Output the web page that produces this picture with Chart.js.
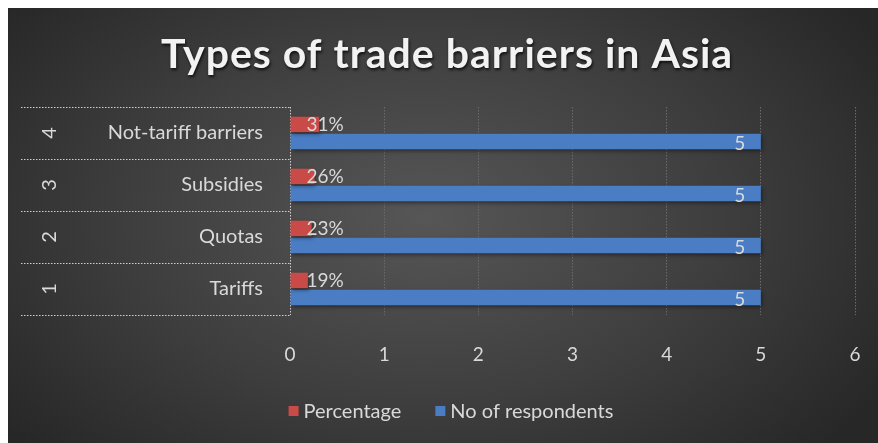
<!DOCTYPE html>
<html>
<head>
<meta charset="utf-8">
<script src="https://cdn.jsdelivr.net/npm/chart.js@4.4.1/dist/chart.umd.min.js"></script>
<style>
  html, body { margin: 0; padding: 0; background: #fff; }
  #wrap {
    position: absolute; left: 8px; top: 8px; width: 870px; height: 435px;
    background: radial-gradient(ellipse 62% 78% at 48% 48%, #565656 0%, #3e3e3e 55%, #272727 100%);
  }
</style>
</head>
<body>
<div id="wrap"><canvas id="chart" width="870" height="435"></canvas></div>
<script>
// ---- Data (bottom to top, as in the sheet) ----
const categories = ["Tariffs", "Quotas", "Subsidies", "Not-tariff barriers"];
const groupNumbers = ["1", "2", "3", "4"];
const percentage = [0.19, 0.23, 0.26, 0.31];
const respondents = [5, 5, 5, 5];
const xTicks = [0, 1, 2, 3, 4, 5, 6];
const seriesNames = ["Percentage", "No of respondents"];
const seriesColors = ["#c94a46", "#4a7dc4"];

const FONT = "Lato, 'Open Sans', sans-serif";
const TXT = "#d9d9d9";

// ---- Title, category boxes, labels, legend ----
const decor = {
  id: "decor",
  beforeDatasetsDraw(chart) {
    const ctx = chart.ctx;
    ctx.save();
    ctx.shadowColor = "rgba(0,0,0,0.45)";
    ctx.shadowBlur = 4;
    ctx.shadowOffsetX = 1;
    ctx.shadowOffsetY = 2;
  },
  afterDatasetsDraw(chart) {
    const ctx = chart.ctx;
    ctx.restore();
    const area = chart.chartArea;
    const y = chart.scales.y;

    // category boxes (multi-level axis look)
    const half = Math.abs(y.getPixelForValue(1) - y.getPixelForValue(0)) / 2;
    ctx.save();
    ctx.strokeStyle = "#d0d0d0";
    ctx.lineWidth = 1;
    ctx.setLineDash([1.5, 1.5]);
    const edges = new Set();
    categories.forEach((c, i) => {
      const p = y.getPixelForValue(i);
      edges.add(Math.round(p - half) + 0.5);
      edges.add(Math.round(p + half) + 0.5);
    });
    edges.forEach(e => {
      ctx.beginPath();
      ctx.moveTo(13, e);
      ctx.lineTo(area.left, e);
      ctx.stroke();
    });
    ctx.restore();

    // category names + rotated group numbers
    ctx.save();
    ctx.fillStyle = TXT;
    ctx.font = "20px " + FONT;
    ctx.textBaseline = "middle";
    categories.forEach((c, i) => {
      const p = y.getPixelForValue(i);
      ctx.textAlign = "right";
      ctx.fillText(c, 255, p);
      ctx.save();
      ctx.translate(42, p);
      ctx.rotate(-Math.PI / 2);
      ctx.textAlign = "center";
      ctx.fillText(groupNumbers[i], 0, 0);
      ctx.restore();
    });
    ctx.restore();

    // data labels
    ctx.save();
    ctx.fillStyle = TXT;
    ctx.font = "19px " + FONT;
    ctx.textBaseline = "middle";
    chart.data.datasets.forEach((ds, di) => {
      const meta = chart.getDatasetMeta(di);
      meta.data.forEach((bar, i) => {
        const v = ds.data[i];
        if (di === 0) {
          ctx.textAlign = "left";
          ctx.fillText(Math.round(v * 100) + "%", bar.base + 16, bar.y);
        } else {
          ctx.textAlign = "center";
          ctx.fillText(String(v), bar.x - 21, bar.y + 2);
        }
      });
    });
    ctx.restore();
  },
  afterDraw(chart) {
    const ctx = chart.ctx;
    // title
    ctx.save();
    ctx.font = "bold 41px " + FONT;
    ctx.letterSpacing = "1px";
    ctx.textAlign = "center";
    ctx.textBaseline = "middle";
    ctx.shadowColor = "rgba(0,0,0,0.75)";
    ctx.shadowBlur = 3;
    ctx.shadowOffsetX = 1;
    ctx.shadowOffsetY = 2;
    ctx.fillStyle = "#f2f2f2";
    ctx.fillText("Types of trade barriers in Asia", 439, 47);
    ctx.restore();

    // legend
    ctx.save();
    ctx.font = "20px " + FONT;
    ctx.textBaseline = "middle";
    ctx.textAlign = "left";
    const box = 10, gapIn = 5, gapOut = 34, ly = 403;
    const widths = seriesNames.map(n => ctx.measureText(n).width);
    const total = widths.reduce((a, w) => a + box + gapIn + w, 0) + gapOut * (seriesNames.length - 1);
    let x = 443 - total / 2;
    seriesNames.forEach((n, i) => {
      ctx.fillStyle = seriesColors[i];
      ctx.fillRect(x, ly - box / 2, box, box);
      ctx.fillStyle = TXT;
      ctx.fillText(n, x + box + gapIn, ly + 1);
      x += box + gapIn + widths[i] + gapOut;
    });
    ctx.restore();
  }
};

new Chart(document.getElementById("chart"), {
  type: "bar",
  data: {
    labels: categories,
    datasets: [
      { label: seriesNames[0], data: percentage, backgroundColor: seriesColors[0] },
      { label: seriesNames[1], data: respondents, backgroundColor: seriesColors[1] }
    ]
  },
  options: {
    indexAxis: "y",
    responsive: false,
    animation: false,
    categoryPercentage: 0.66,
    barPercentage: 0.9,
    layout: { padding: { left: 282, top: 99, right: 23, bottom: 0 } },
    plugins: { legend: { display: false }, title: { display: false }, tooltip: { enabled: false } },
    scales: {
      y: { type: "category", reverse: true, display: false },
      x: {
        min: xTicks[0],
        max: xTicks[xTicks.length - 1],
        afterFit: s => { s.height = 128; },
        afterBuildTicks: s => { s.ticks = xTicks.map(v => ({ value: v })); },
        ticks: { color: TXT, font: { family: FONT, size: 19 }, padding: 2 },
        grid: {
          drawTicks: true,
          tickLength: 26,
          tickColor: "transparent",
          color: c => (c.index === 0 ? "#d0d0d0" : "#6a6a6a")
        },
        border: { display: false, dash: [1.5, 1.5] }
      }
    }
  },
  plugins: [decor]
});
</script>
</body>
</html>
